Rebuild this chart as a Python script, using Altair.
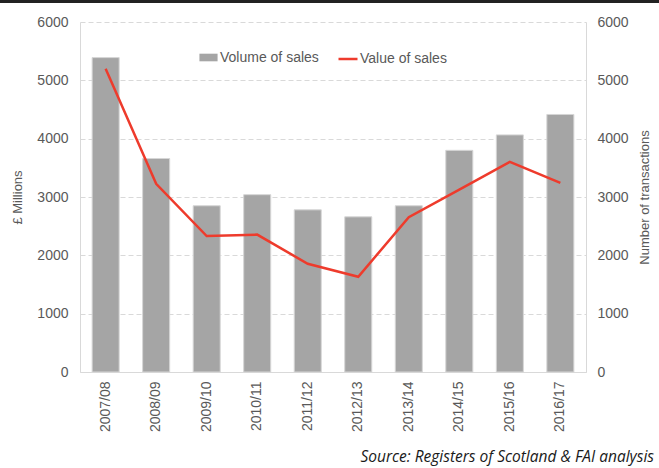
import altair as alt
import pandas as pd

years = ["2007/08", "2008/09", "2009/10", "2010/11", "2011/12",
         "2012/13", "2013/14", "2014/15", "2015/16", "2016/17"]
volume = [5390, 3660, 2850, 3040, 2780, 2660, 2850, 3800, 4065, 4415]
value = [5200, 3225, 2330, 2355, 1855, 1632, 2655, 3125, 3603, 3243]

df = pd.DataFrame({"year": years, "volume": volume, "value": value})

FONT = "Liberation Sans"
GREY = "#595959"
TICKS = [0, 1000, 2000, 3000, 4000, 5000, 6000]

x = alt.X("year:N", sort=years, title=None,
          scale=alt.Scale(paddingInner=0.465, paddingOuter=0.24),
          axis=alt.Axis(labelAngle=-90, labelFontSize=14, labelColor=GREY,
                        labelFont=FONT, labelPadding=9, ticks=False,
                        domainColor="#D9D9D9", grid=False))

bars = alt.Chart(df).mark_bar(color="#A5A5A5", stroke="#D6D6D6", strokeWidth=1).encode(
    x=x,
    y=alt.Y("volume:Q", scale=alt.Scale(domain=[0, 6000]),
            axis=alt.Axis(values=TICKS, format="d",
                          title="£ Millions", titleFont=FONT, titleFontSize=13,
                          titleFontWeight="normal", titleColor=GREY,
                          titleAngle=270, titleX=-63, titleY=175,
                          titleAlign="center", titleBaseline="middle",
                          labelFont=FONT, labelFontSize=14, labelColor=GREY,
                          labelPadding=12, ticks=False, domainColor="#D9D9D9",
                          gridColor="#D9D9D9", gridDash=[5, 3])),
    fill=alt.Fill("s:N", title=None,
                  scale=alt.Scale(domain=["Volume of sales"], range=["#A5A5A5"]),
                  legend=alt.Legend(orient="none", legendX=119, legendY=26,
                                    symbolType="M-1,-0.42H1V0.42H-1Z",
                                    symbolSize=330, symbolStrokeWidth=0,
                                    labelFont=FONT, labelFontSize=14,
                                    labelColor=GREY, labelOffset=2)),
).transform_calculate(s="'Volume of sales'")

line = alt.Chart(df).mark_line(strokeWidth=2.5).encode(
    x=alt.X("year:N", sort=years),
    y=alt.Y("value:Q", scale=alt.Scale(domain=[0, 6000]),
            axis=alt.Axis(orient="right", values=TICKS, format="d",
                          title="Number of transactions", titleFont=FONT,
                          titleFontSize=13, titleFontWeight="normal",
                          titleColor=GREY, titleAngle=270, titleX=58, titleY=175,
                          titleAlign="center", titleBaseline="middle",
                          labelFont=FONT, labelFontSize=14, labelColor=GREY,
                          labelPadding=11, ticks=False, grid=False,
                          domainColor="#D9D9D9")),
    stroke=alt.Stroke("s:N", title=None,
                      scale=alt.Scale(domain=["Value of sales"], range=["#EE3B2C"]),
                      legend=alt.Legend(orient="none", legendX=257, legendY=26,
                                        symbolType="stroke", symbolSize=361,
                                        symbolStrokeWidth=2.5,
                                        labelFont=FONT, labelFontSize=14,
                                        labelColor=GREY, labelOffset=1)),
).transform_calculate(s="'Value of sales'")

deco = pd.DataFrame({"t": ["Source: Registers of Scotland & FAI analysis"]})
topline = alt.Chart(deco).mark_rule(color="#222222", strokeWidth=3).encode(
    x=alt.value(-82), x2=alt.value(582), y=alt.value(-20.5))
source = alt.Chart(deco).mark_text(
    align="right", baseline="alphabetic", font="Open Sans", fontStyle="italic",
    fontSize=15.5, color="#1a1a1a").encode(
    text="t:N", x=alt.value(574), y=alt.value(440))

chart = alt.layer(bars, line, topline, source).resolve_scale(
    y="independent", fill="independent", stroke="independent"
).properties(
    width=506, height=350,
    autosize=alt.AutoSizeParams(type="none"),
    padding={"left": 80, "top": 22, "right": 73, "bottom": 96},
).configure_view(stroke=None)

chart.save("out.html", embed_options={"renderer": "svg", "actions": False})
